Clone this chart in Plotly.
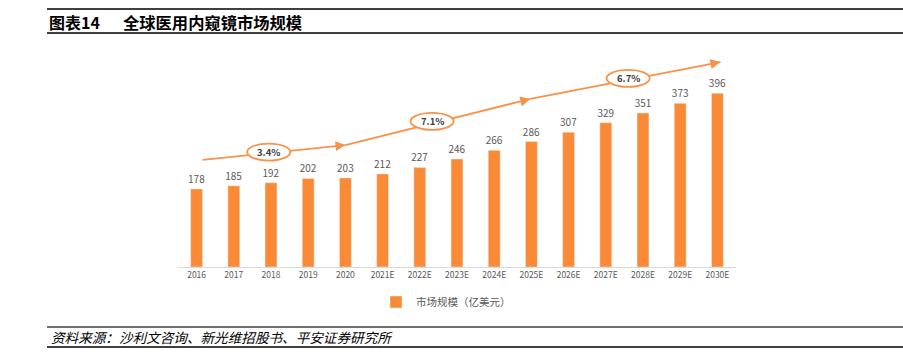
import plotly.graph_objects as go

years = ["2016", "2017", "2018", "2019", "2020", "2021E", "2022E", "2023E",
         "2024E", "2025E", "2026E", "2027E", "2028E", "2029E", "2030E"]
market = [178, 185, 192, 202, 203, 212, 227, 246, 266, 286, 307, 329, 351, 373, 396]
cagr_labels = ["3.4%", "7.1%", "6.7%"]

BAR = "#FA8A35"
LINE = "#F7924A"
FONT = "Noto Sans CJK SC"

fig = go.Figure()
fig.add_trace(go.Bar(
    x=years, y=market, name="市场规模（亿美元）",
    marker_color=BAR, width=0.32,
    text=[str(v) for v in market], textposition="outside",
    constraintext="none",
    textfont=dict(size=10, color="#595959", family=FONT),
    cliponaxis=False,
))

# Plot area mapping
L, R_, T, B = 178, 167, 45, 90
W, H = 903, 357
pw = W - L - R_
ph = H - T - B
ymax = 506

def px_x(px):
    return (px - L) / pw

def px_y(py):
    return (H - B - py) / ph

# growth trend path (in data coordinates: category index, value)
path = [(0.16, 244), (4.0, 278), (8.97, 383), (14.08, 467)]
shapes = []
annotations = []
for (x0, y0), (x1, y1) in zip(path[:-1], path[1:]):
    shapes.append(dict(type="line", xref="x", yref="y", x0=x0, y0=y0, x1=x1, y1=y1,
                       line=dict(color=LINE, width=1.8), layer="above"))
# arrowheads
dirs = [(-10, 1.1), (-10, 2.5), (-10, 2.0)]
for (x1, y1), (ax, ay) in zip(path[1:], dirs):
    annotations.append(dict(x=x1, y=y1, xref="x", yref="y", ax=ax, ay=ay,
                            showarrow=True, arrowhead=2, arrowsize=1.1,
                            arrowwidth=1.8, arrowcolor=LINE, text=""))
# ellipses with CAGR labels
ell = [(1.94, 262), (6.33, 332), (11.6, 430)]
for (cx, cy), lab in zip(ell, cagr_labels):
    shapes.append(dict(type="circle", xref="x", yref="y",
                       x0=cx - 0.58, x1=cx + 0.58, y0=cy - 19.4, y1=cy + 19.4,
                       line=dict(color=LINE, width=1.8), fillcolor="white", layer="above"))
    annotations.append(dict(x=cx, y=cy, xref="x", yref="y", text="<b>" + lab + "</b>",
                            showarrow=False, font=dict(size=9.5, color="#404040", family=FONT)))

# header / footer rules
for py, w, c in [(9, 2, "#404040"), (33, 2, "#404040"), (327, 1.5, "#404040"), (347, 2, "#404040")]:
    shapes.append(dict(type="line", xref="paper", yref="paper",
                       x0=px_x(47), x1=px_x(903), y0=px_y(py), y1=px_y(py),
                       line=dict(color=c, width=w)))

annotations.append(dict(xref="paper", yref="paper", x=px_x(47), y=px_y(22),
                        xanchor="left", yanchor="middle", showarrow=False,
                        text="<b>图表14</b>", font=dict(size=16, color="#000000", family=FONT)))
annotations.append(dict(xref="paper", yref="paper", x=px_x(121), y=px_y(22),
                        xanchor="left", yanchor="middle", showarrow=False,
                        text="<b>全球医用内窥镜市场规模</b>", font=dict(size=16.3, color="#000000", family=FONT)))
annotations.append(dict(xref="paper", yref="paper", x=px_x(49), y=px_y(337),
                        xanchor="left", yanchor="middle", showarrow=False,
                        text="资料来源：沙利文咨询、新光维招股书、平安证券研究所",
                        font=dict(size=13.6, color="#000000", family=FONT, style="italic")))

fig.update_layout(
    width=W, height=H,
    margin=dict(l=L, r=R_, t=T, b=B),
    plot_bgcolor="white", paper_bgcolor="white",
    font=dict(family=FONT, color="#595959"),
    showlegend=True,
    legend=dict(orientation="h", x=px_x(376), y=px_y(302), xanchor="left", yanchor="middle",
                font=dict(size=10.5, color="#595959", family=FONT), itemwidth=30),
    xaxis=dict(type="category", range=[-0.5, 14.5], showline=True, linecolor="#D9D9D9",
               linewidth=1, ticks="", tickfont=dict(size=8.5, color="#595959", family=FONT),
               showgrid=False, fixedrange=True),
    yaxis=dict(range=[0, ymax], visible=False, showgrid=False, fixedrange=True),
    shapes=shapes,
    annotations=annotations,
)

fig.write_html("out.html", config={"displayModeBar": False},
               post_script="document.body.style.margin='0';document.body.style.overflow='hidden';")
